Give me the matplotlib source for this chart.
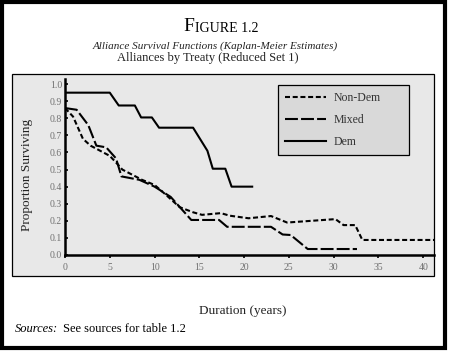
import matplotlib.pyplot as plt
from matplotlib.patches import Rectangle

# survival curves (duration in years, proportion surviving)
nondem_x = [0, 0.9, 2.0, 2.85, 5.0, 5.9, 6.4, 8.6, 10.0, 11.1, 12.8, 14.3, 15.3, 17.4,
            18.4, 20.5, 23.0, 24.8, 30.2, 31.1, 32.4, 33.2, 41.2]
nondem_y = [0.86, 0.81, 0.68, 0.64, 0.58, 0.53, 0.50, 0.44, 0.41, 0.36, 0.28, 0.25, 0.235, 0.245,
            0.23, 0.215, 0.228, 0.19, 0.21, 0.175, 0.175, 0.088, 0.088]

mixed_x = [0, 1.3, 2.6, 3.5, 4.6, 5.7, 6.3, 8.3, 10.0, 11.8, 14.1, 17.2, 18.1, 23.0,
           24.3, 25.2, 27.1, 32.6]
mixed_y = [0.86, 0.85, 0.76, 0.64, 0.63, 0.565, 0.46, 0.44, 0.40, 0.34, 0.205, 0.205, 0.165, 0.165,
           0.12, 0.117, 0.035, 0.035]

dem_x = [0, 5.0, 6.0, 7.8, 8.5, 9.7, 10.5, 14.3, 15.9, 16.5, 17.9, 18.6, 20.9]
dem_y = [0.95, 0.95, 0.875, 0.875, 0.805, 0.805, 0.745, 0.745, 0.61, 0.505, 0.505, 0.40, 0.40]

yticks = [0.0, 0.1, 0.2, 0.3, 0.4, 0.5, 0.6, 0.7, 0.8, 0.9, 1.0]
xticks = [0, 5, 10, 15, 20, 25, 30, 35, 40]

W, H = 450, 354
plt.rcParams['font.family'] = 'Liberation Serif'

fig = plt.figure(figsize=(4.5, 3.54), dpi=100)


def fx(px):
    return px / W


def fy(py):
    return 1 - py / H


# outer black frame and grey panel
fig.patches.append(Rectangle((fx(2), fy(348)), fx(443), 346 / H, transform=fig.transFigure,
                             facecolor='white', edgecolor='black', lw=3, zorder=0))
fig.patches.append(Rectangle((fx(12), fy(276)), fx(422), 202 / H, transform=fig.transFigure,
                             facecolor='#e8e8e8', edgecolor='black', lw=0.9, zorder=1))

ax = fig.add_axes([fx(65), fy(255), fx(434 - 65), (255 - 79) / H])
ax.set_zorder(2)
ax.set_facecolor('none')

ax.plot(nondem_x, nondem_y, color='black', lw=1.5, dashes=(2.4, 1.3), label='Non-Dem')
ax.plot(mixed_x, mixed_y, color='black', lw=1.5, dashes=(6.2, 1.5), label='Mixed')
ax.plot(dem_x, dem_y, color='black', lw=1.5, label='Dem')

ax.set_xlim(0, 41.2)
ax.set_ylim(0, 1.03)
ax.set_xticks(xticks)
ax.set_yticks(yticks)
ax.set_yticklabels([f'{v:.1f}' for v in yticks])
ax.spines['top'].set_visible(False)
ax.spines['right'].set_visible(False)
ax.spines['left'].set_linewidth(1.8)
ax.spines['bottom'].set_linewidth(1.8)
ax.tick_params(axis='x', direction='out', length=2, width=1.2, labelsize=7,
               labelcolor='#707070', pad=4)
ax.tick_params(axis='y', direction='in', length=2.5, width=1.2, labelsize=7,
               labelcolor='#707070', pad=2)

leg = ax.legend(loc='upper left', bbox_to_anchor=(fx(278), fy(153), fx(131), 68 / H),
                bbox_transform=fig.transFigure, mode='expand', frameon=True, fancybox=False,
                handlelength=3.5, handletextpad=0.6, labelspacing=0.85,
                borderpad=0.6, borderaxespad=0, fontsize=8.5)
leg.get_frame().set_facecolor('#d9d9d9')
leg.get_frame().set_edgecolor('black')
leg.get_frame().set_linewidth(0.9)
leg.get_frame().set_alpha(1)
for t in leg.get_texts():
    t.set_color('#333333')

# title with small caps look
t1 = fig.text(fx(183), fy(31), 'F', fontsize=14, ha='left', va='baseline')
ax.annotate('IGURE 1.2', xy=(1, 0), xycoords=t1, xytext=(0.5, 0), textcoords='offset points',
            fontsize=10, ha='left', va='bottom', annotation_clip=False)
fig.text(fx(215), fy(46), 'Alliance Survival Functions (Kaplan-Meier Estimates)',
         fontsize=8, style='italic', ha='center', va='center', color='#222222')
fig.text(fx(208), fy(58), 'Alliances by Treaty (Reduced Set 1)',
         fontsize=9, ha='center', va='center', color='#222222')

fig.text(fx(27), fy(175), 'Proportion Surviving', rotation=90, fontsize=9.5,
         ha='center', va='center', color='#222222')
fig.text(fx(243), fy(311), 'Duration (years)', fontsize=9.5, ha='center', va='center',
         color='#222222')
fig.text(fx(15), fy(329), 'Sources:', fontsize=9, style='italic', ha='left', va='center')
fig.text(fx(63), fy(329), 'See sources for table 1.2', fontsize=9, ha='left', va='center')

fig.savefig('out.png', dpi=100)
